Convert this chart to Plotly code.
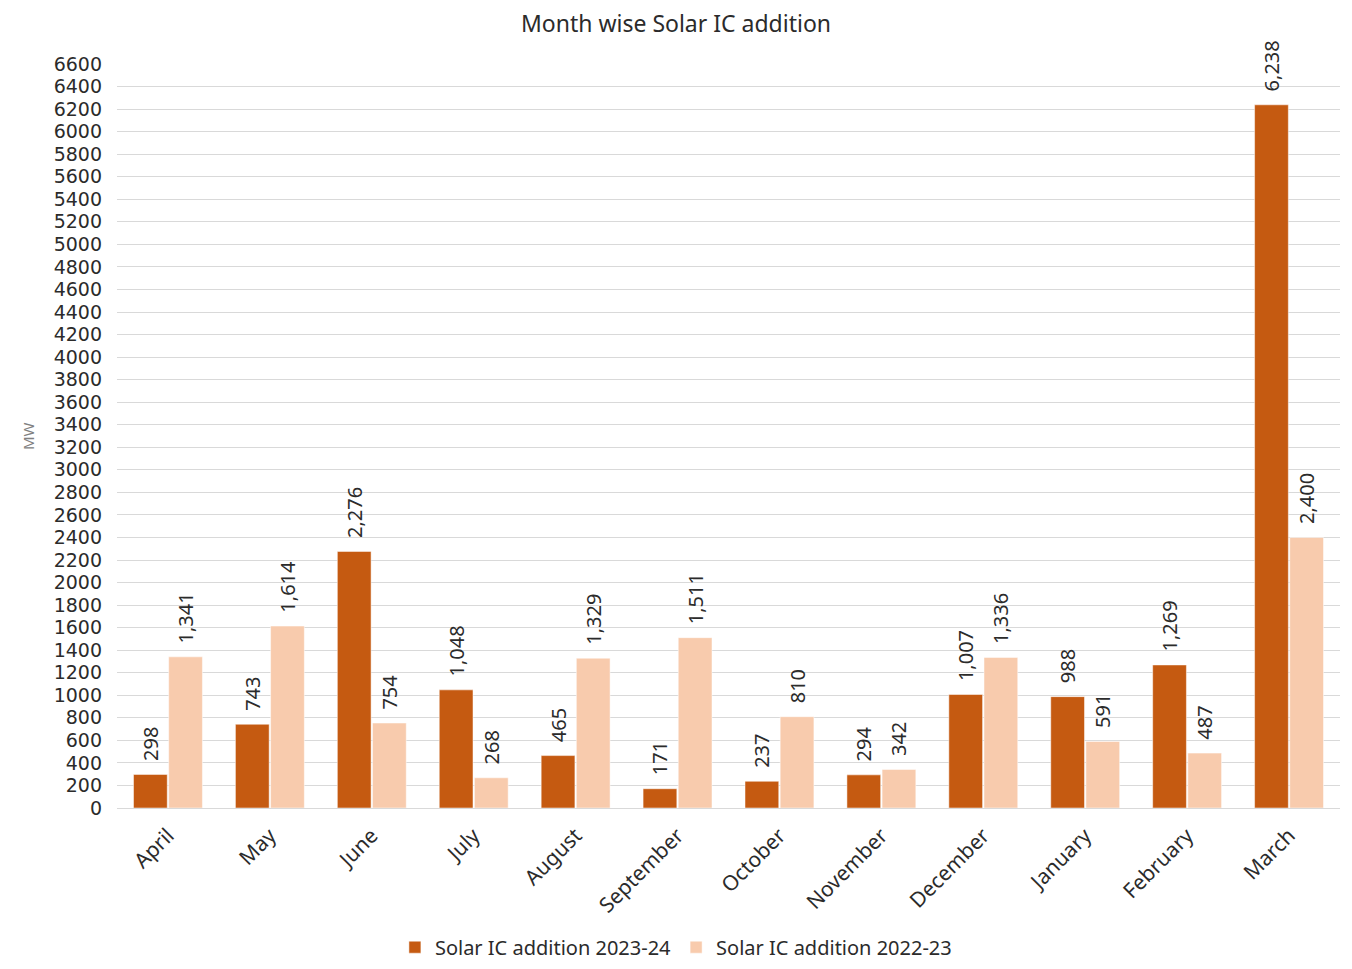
import plotly.graph_objects as go

months = ["April", "May", "June", "July", "August", "September", "October",
          "November", "December", "January", "February", "March"]
ic_2023_24 = [298, 743, 2276, 1048, 465, 171, 237, 294, 1007, 988, 1269, 6238]
ic_2022_23 = [1341, 1614, 754, 268, 1329, 1511, 810, 342, 1336, 591, 487, 2400]

FONT = "Noto Sans"
TXT = "#2b2b2b"

fig = go.Figure()
for vals, name, col in [(ic_2023_24, "Solar IC addition 2023-24", "#C55A11"),
                        (ic_2022_23, "Solar IC addition 2022-23", "#F8CBAD")]:
    fig.add_trace(go.Bar(x=months, y=vals, name=name, marker_color=col,
                         texttemplate="\u00a0\u00a0%{y:,}", textposition="outside",
                         textangle=-90, constraintext="none",
                         textfont=dict(size=20, color=TXT), cliponaxis=False))

# figure is 16px smaller than the window so the 8px body margin doesn't cause scrolling
fig.update_layout(
    width=1336, height=953,
    template="plotly_white",
    barmode="group", bargap=0.31, bargroupgap=0.04,
    font=dict(family=FONT, color=TXT, size=21),
    title=dict(text="Month wise Solar IC addition", x=0.5, xanchor="center",
               y=0.983, yanchor="middle", font=dict(size=23, color=TXT)),
    margin=dict(l=109, r=4, t=56, b=153),
    legend=dict(orientation="h", x=0.457, xanchor="center",
                yref="container", y=0.0145, yanchor="middle",
                font=dict(size=20), itemwidth=30, traceorder="normal"),
    plot_bgcolor="white", paper_bgcolor="white",
    annotations=[dict(text="MW", x=-0.0826, y=0.5, xref="paper", yref="paper",
                      textangle=-90, showarrow=False,
                      font=dict(size=15, color="#808080"))],
)
fig.update_yaxes(range=[0, 6600], dtick=200, gridcolor="#D9D9D9", zeroline=False,
                 showline=False, tickfont=dict(size=19, family="DejaVu Sans"),
                 automargin=False, ticklabelstandoff=14)
fig.update_xaxes(tickangle=-45, showline=True, linecolor="#D9D9D9",
                 tickfont=dict(size=21), automargin=False, ticklabelstandoff=6)

fig.write_html("out.html")
